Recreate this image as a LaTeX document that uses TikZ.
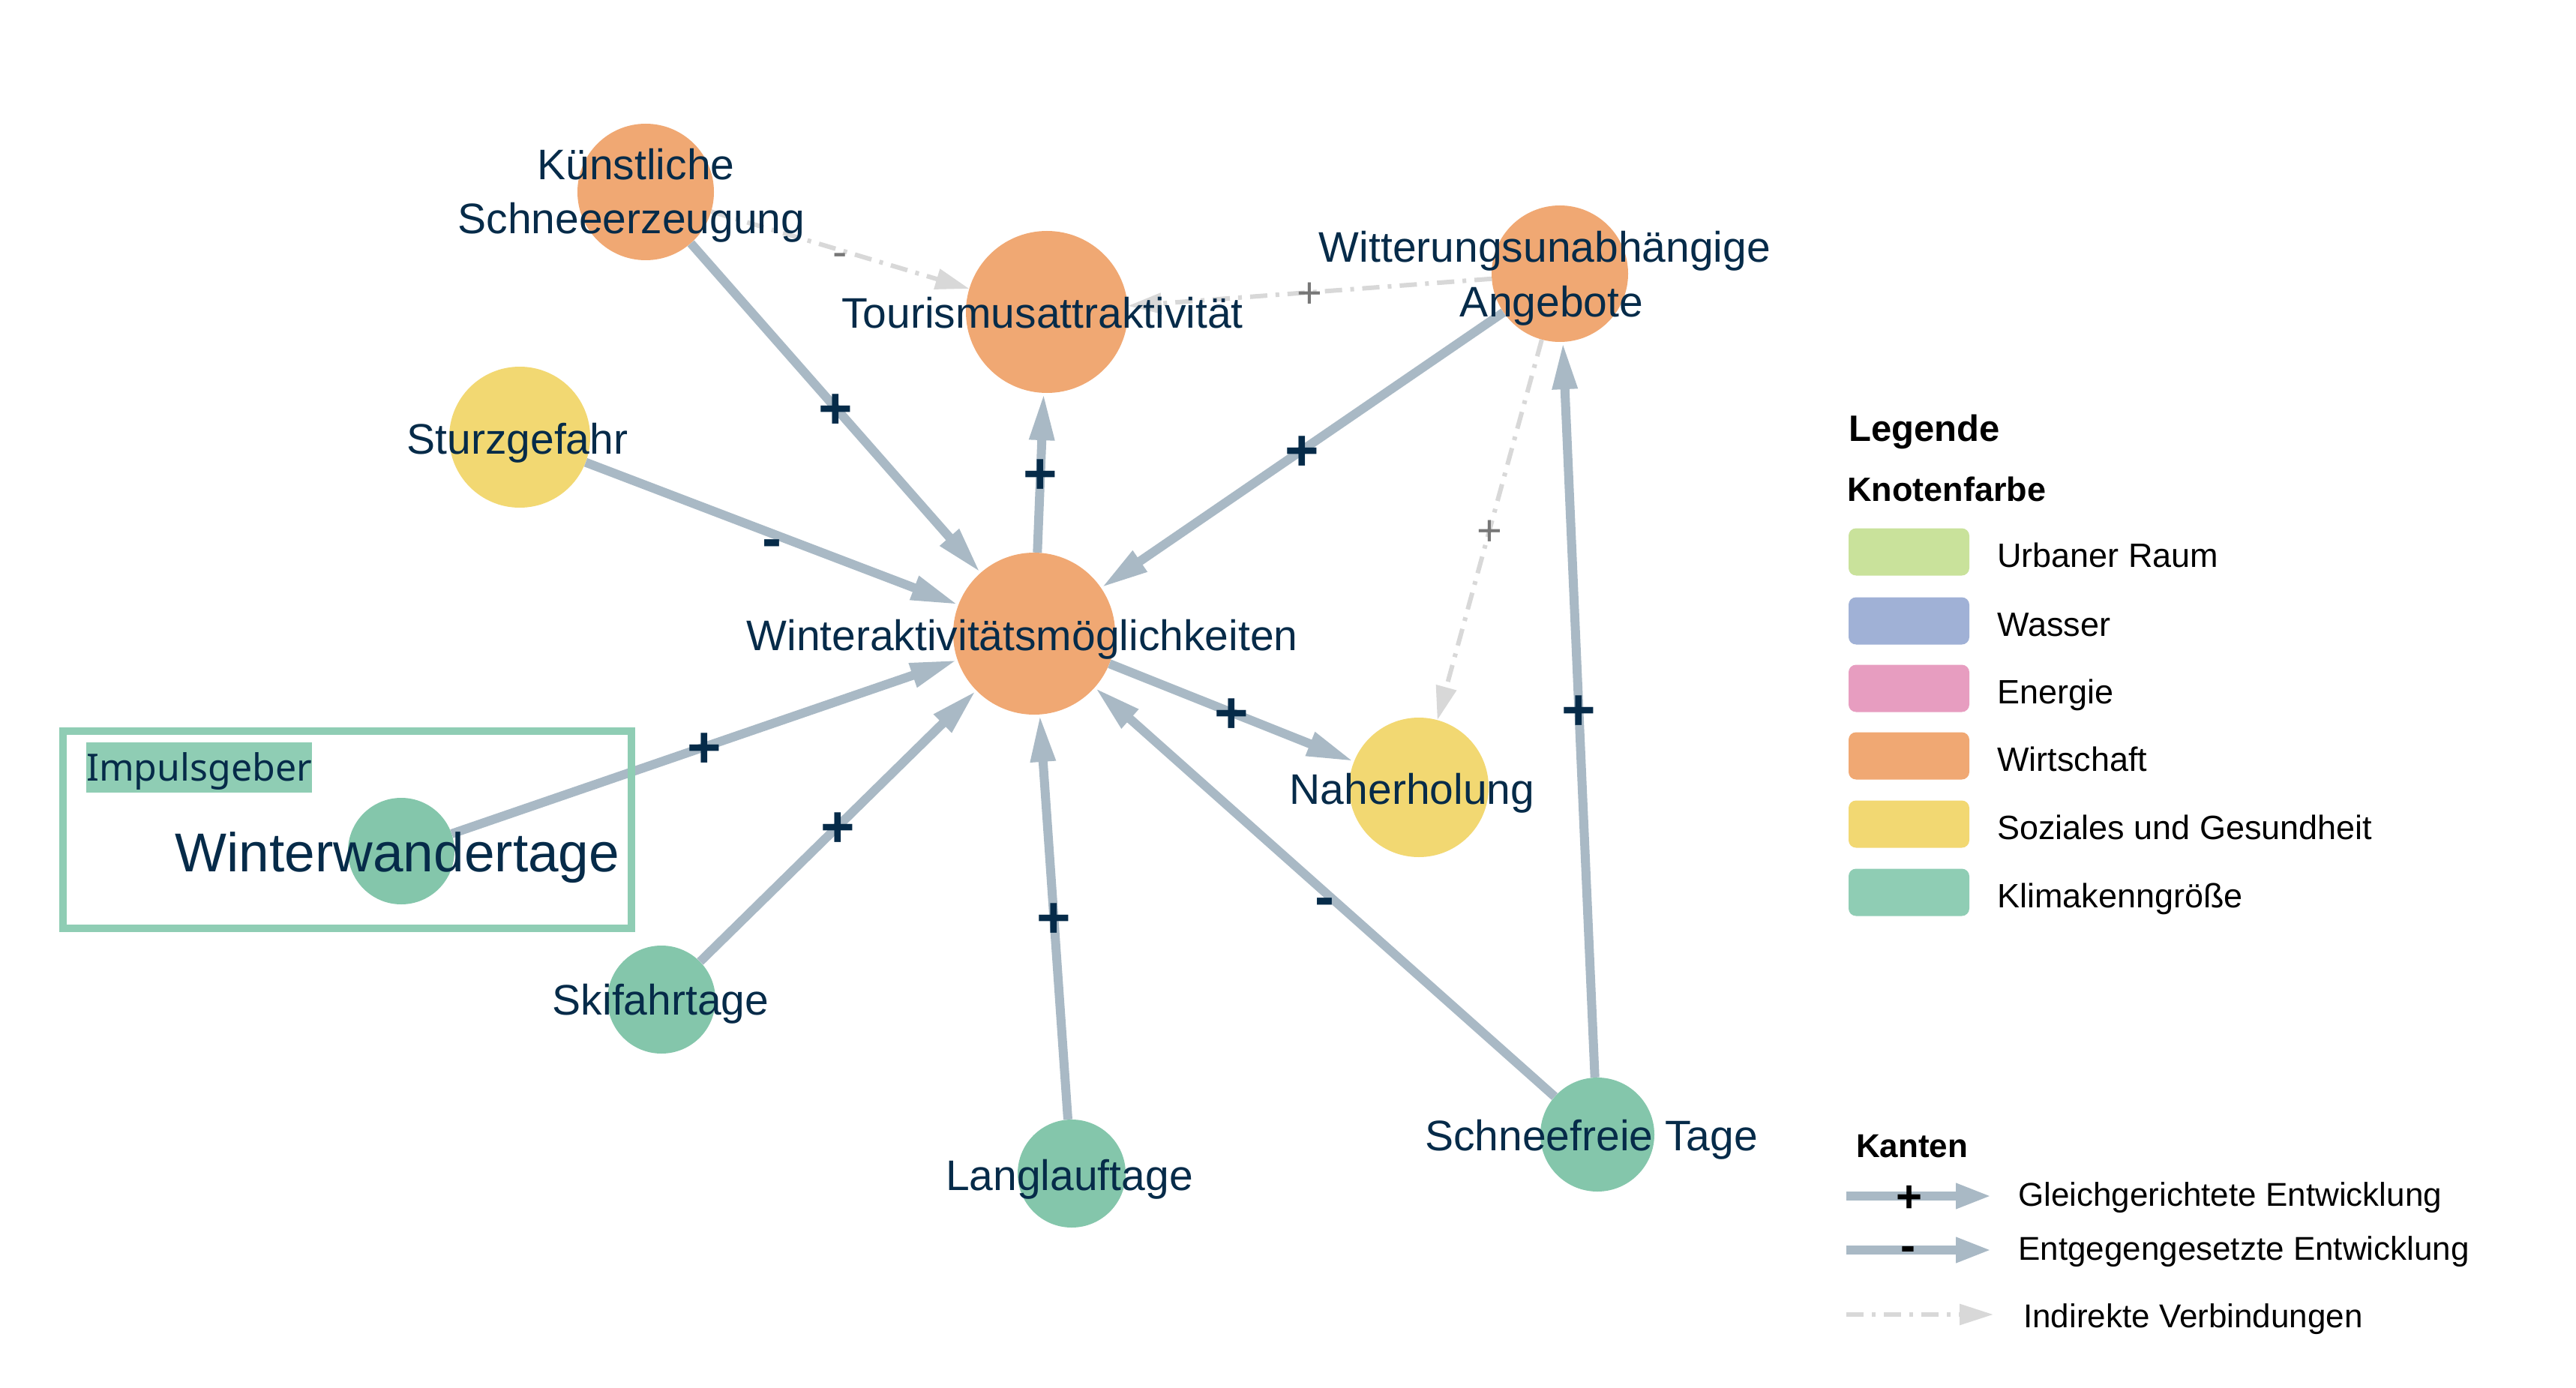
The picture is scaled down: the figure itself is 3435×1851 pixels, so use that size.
\documentclass[tikz,border=0pt]{standalone}
\usepackage{fontspec}
\setmainfont{Liberation Sans}
\newfontfamily\impfont{Noto Sans}
\usetikzlibrary{arrows.meta}
\definecolor{navy}{HTML}{062B49}
\definecolor{edgec}{HTML}{A9B9C5}
\definecolor{dashc}{HTML}{D8D8D8}
\definecolor{greyc}{HTML}{777777}
\definecolor{cWirt}{HTML}{F0A873}
\definecolor{cSoz}{HTML}{F2D872}
\definecolor{cKlimaN}{HTML}{84C6AB}
\definecolor{cKlima}{HTML}{8FCDB4}
\definecolor{cUrban}{HTML}{C9E29B}
\definecolor{cWasser}{HTML}{A0B1D6}
\definecolor{cEnergie}{HTML}{E79DC0}
\begin{document}
\begin{tikzpicture}[x=1pt,y=-1pt,
  circ/.style={circle, inner sep=0pt, draw=none},
  wirt/.style={circ, fill=cWirt},
  soz/.style={circ, fill=cSoz},
  klima/.style={circ, fill=cKlimaN},
  lbl/.style={anchor=base, text=navy, inner sep=0pt, font=\fontsize{57}{68}\selectfont},
  solidarrow/.style={draw=edgec, line width=12pt, -{Triangle[length=63pt,width=31pt]}},
  indirect/.style={draw=dashc, line width=6pt, dash pattern=on 23pt off 11pt on 5pt off 11pt, -{Triangle[length=45pt,width=27pt]}},
  plusn/.style={midway, anchor=base, inner sep=0pt, text=navy, font=\bfseries\fontsize{78}{78}\selectfont, yshift=-27.5pt},
  minusn/.style={midway, anchor=base, inner sep=0pt, text=navy, font=\bfseries\fontsize{78}{78}\selectfont, yshift=-33pt},
  plusg/.style={midway, anchor=base, inner sep=0pt, text=greyc, font=\fontsize{58}{58}\selectfont, yshift=-20.5pt},
  minusg/.style={midway, anchor=base, inner sep=0pt, text=greyc, font=\fontsize{58}{58}\selectfont, yshift=-22pt},
  swatch/.style={rounded corners=10pt, minimum width=161pt, minimum height=63pt, inner sep=0pt, draw=none},
  legtext/.style={anchor=base west, inner sep=0pt, text=black, font=\fontsize{45}{45}\selectfont},
  legtitle/.style={anchor=base west, inner sep=0pt, text=black, font=\bfseries\fontsize{45}{45}\selectfont},
  legarrow/.style={draw=edgec, line width=12pt, -{Triangle[length=48pt,width=31pt]}},
  legsign/.style={anchor=base, inner sep=0pt, text=black, font=\bfseries\fontsize{60}{60}\selectfont}
]
\fill[white] (0,0) rectangle (3435,1851);
\useasboundingbox (0,0) rectangle (3435,1851);

% circles
\node[wirt, minimum size=182pt] (kuenst) at (861,256) {};
\node[wirt, minimum size=216pt] (tour) at (1396,416) {};
\node[wirt, minimum size=182pt] (witt) at (2080,365) {};
\node[soz, minimum size=188pt] (sturz) at (693,583) {};
\node[wirt, minimum size=216pt] (winter) at (1379,845) {};
\node[soz, minimum size=186pt] (naher) at (1892,1050) {};
\node[klima, minimum size=142pt] (wwt) at (535,1135) {};
\node[klima, minimum size=144pt] (ski) at (882,1333) {};
\node[klima, minimum size=144pt] (lang) at (1429,1565) {};
\node[klima, minimum size=152pt] (schnee) at (2130,1513) {};

% edges
\draw[solidarrow] (kuenst) -- node[plusn]{+} (winter);
\draw[solidarrow] (sturz) -- node[minusn]{-} (winter);
\draw[solidarrow] (winter) -- node[plusn]{+} (tour);
\draw[solidarrow] (witt) -- node[plusn]{+} (winter);
\draw[solidarrow] (wwt) -- node[plusn]{+} (winter);
\draw[solidarrow] (ski) -- node[plusn]{+} (winter);
\draw[solidarrow] (lang) -- node[plusn]{+} (winter);
\draw[solidarrow] (schnee) -- node[minusn]{-} (winter);
\draw[solidarrow] (winter) -- node[plusn]{+} (naher);
\draw[solidarrow] (schnee) -- node[plusn]{+} (witt);
\draw[indirect] (kuenst) -- node[minusg]{-} (tour);
\draw[indirect] (witt) -- node[plusg]{+} (tour);
\draw[indirect] (witt) -- node[plusg]{+} (naher);

% Impulsgeber box
\node[draw=cKlima, line width=10pt, minimum width=758pt, minimum height=263pt, inner sep=0pt] (impbox) at (463,1106.5) {};
\node[fill=cKlima, text=navy, font=\impfont\fontsize{50}{50}\selectfont, minimum width=299pt, minimum height=67pt, inner sep=0pt, text height=36pt, text depth=0pt] (imp) at (265.5,1023.5) {Impulsgeber};

% labels
\node[lbl] (tkuenst1) at (848,240) {Künstliche};
\node[lbl] (tkuenst2) at (842,312) {Schneeerzeugung};
\node[lbl] (ttour) at (1390,437) {Tourismusattraktivität};
\node[lbl] (twitt1) at (2060,350) {Witterungsunabhängige};
\node[lbl] (twitt2) at (2069,423) {Angebote};
\node[lbl] (tsturz) at (690,605) {Sturzgefahr};
\node[lbl] (twinter) at (1363,867) {Winteraktivitätsmöglichkeiten};
\node[lbl] (tnaher) at (1883,1072) {Naherholung};
\node[lbl, font=\fontsize{73}{73}\selectfont] (twwt) at (530,1162) {Winterwandertage};
\node[lbl] (tski) at (881,1353) {Skifahrtage};
\node[lbl] (tlang) at (1426,1587) {Langlauftage};
\node[lbl] (tschnee) at (2122,1534) {Schneefreie Tage};

% legend
\node[legtitle, font=\bfseries\fontsize{49}{49}\selectfont] (legende) at (2465,588) {Legende};
\node[legtitle] (knoten) at (2463,668) {Knotenfarbe};
\node[swatch, fill=cUrban] (sw1) at (2545.5,736) {};
\node[swatch, fill=cWasser] (sw2) at (2545.5,828) {};
\node[swatch, fill=cEnergie] (sw3) at (2545.5,918) {};
\node[swatch, fill=cWirt] (sw4) at (2545.5,1008) {};
\node[swatch, fill=cSoz] (sw5) at (2545.5,1099) {};
\node[swatch, fill=cKlima] (sw6) at (2545.5,1190) {};
\node[legtext] (lt1) at (2663,756) {Urbaner Raum};
\node[legtext] (lt2) at (2663,848) {Wasser};
\node[legtext] (lt3) at (2663,938) {Energie};
\node[legtext] (lt4) at (2663,1028) {Wirtschaft};
\node[legtext] (lt5) at (2663,1119) {Soziales und Gesundheit};
\node[legtext] (lt6) at (2663,1210) {Klimakenngröße};

\node[legtitle, font=\bfseries\fontsize{44}{44}\selectfont] (kanten) at (2475,1543) {Kanten};
\coordinate (a1s) at (2462,1595);
\coordinate (a1e) at (2656,1595);
\coordinate (a2s) at (2462,1667);
\coordinate (a2e) at (2656,1667);
\coordinate (a3s) at (2462,1753);
\coordinate (a3e) at (2658,1753);
\draw[legarrow] (a1s) -- node[legsign, pos=0.433, yshift=-21pt]{+} (a1e);
\draw[legarrow] (a2s) -- node[legsign, pos=0.423, yshift=-14.5pt]{-} (a2e);
\draw[indirect] (a3s) -- (a3e);
\node[legtext, font=\fontsize{44}{44}\selectfont] (k1) at (2691,1608) {Gleichgerichtete Entwicklung};
\node[legtext, font=\fontsize{44}{44}\selectfont] (k2) at (2691,1680) {Entgegengesetzte Entwicklung};
\node[legtext, font=\fontsize{44}{44}\selectfont] (k3) at (2698,1770) {Indirekte Verbindungen};
\end{tikzpicture}
\end{document}
